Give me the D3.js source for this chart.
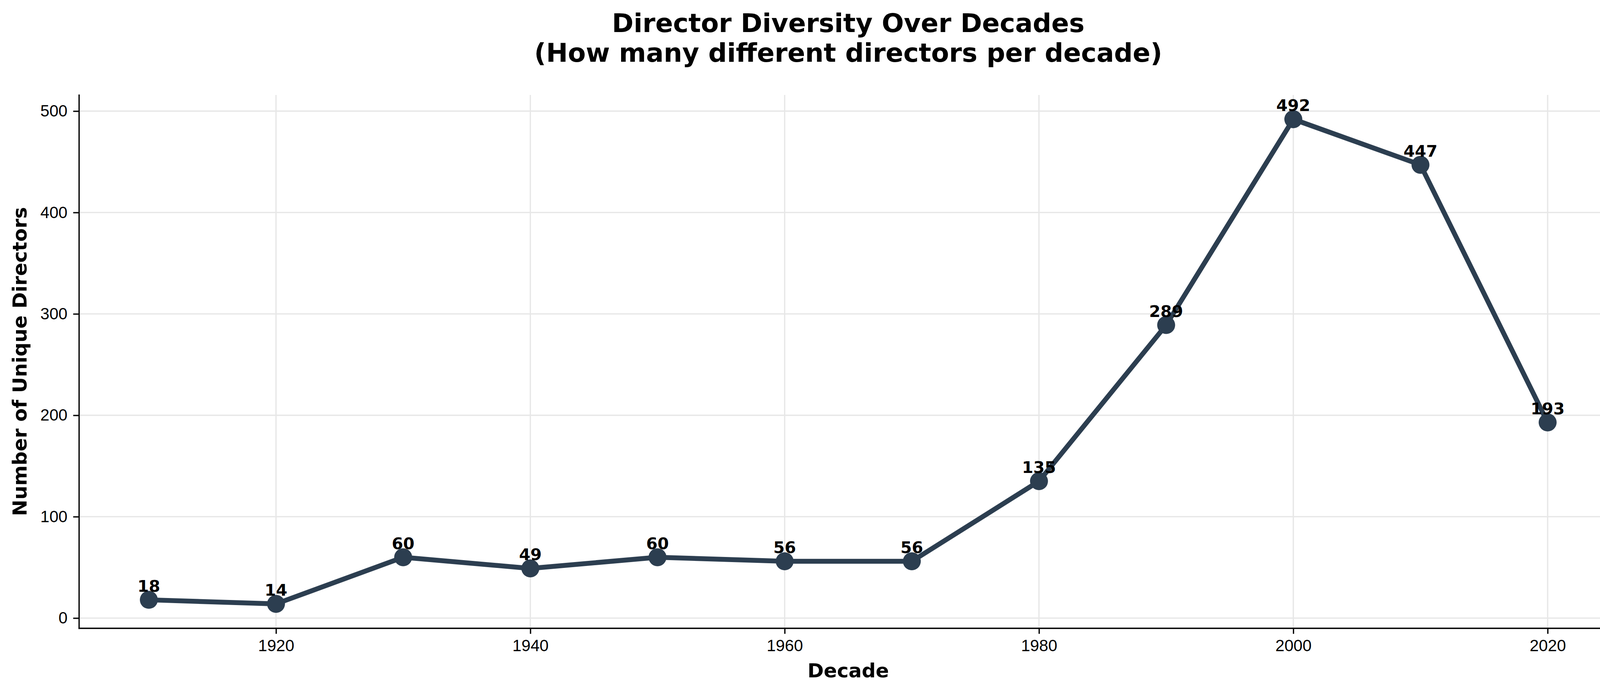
<!DOCTYPE html>
<html>
<head>
<meta charset="utf-8">
<script src="https://cdn.jsdelivr.net/npm/d3@7"></script>
<style>
  body { margin: 0; background: #fff; }
  svg { display: block; font-family: "DejaVu Sans", sans-serif; }
  .axis path, .axis line { stroke: #000; stroke-width: 3.3px; }
  .axis text { font-size: 41.7px; fill: #000; }
  .grid line { stroke: #e7e7e7; stroke-width: 3.3px; }
</style>
</head>
<body>
<div id="graph"></div>
<script>
// chart values
var decades = [1910, 1920, 1930, 1940, 1950, 1960, 1970, 1980, 1990, 2000, 2010, 2020];
var directors = [18, 14, 60, 49, 60, 56, 56, 135, 289, 492, 447, 193];
var xTicks = [1920, 1940, 1960, 1980, 2000, 2020];
var yTicks = [0, 100, 200, 300, 400, 500];

var data = decades.map(function(d, i) { return {decade: d, count: directors[i]}; });

var W = 4169, H = 1773;
var margin = {top: 243, right: 28, bottom: 166, left: 202};
var width = W - margin.left - margin.right,
    height = H - margin.top - margin.bottom;

// matplotlib-like 5% padding round the data
var xmin = d3.min(decades), xmax = d3.max(decades);
var ymin = d3.min(directors), ymax = d3.max(directors);
var xpad = (xmax - xmin) * 0.05, ypad = (ymax - ymin) * 0.05;

var x = d3.scaleLinear().domain([xmin - xpad, xmax + xpad]).range([0, width]);
var y = d3.scaleLinear().domain([ymin - ypad, ymax + ypad]).range([height, 0]);

var svg = d3.select("#graph").append("svg")
  .attr("width", W)
  .attr("height", H);

var g = svg.append("g")
  .attr("transform", "translate(" + margin.left + "," + margin.top + ")");

// grid
g.append("g").attr("class", "grid")
  .selectAll("line.h")
  .data(yTicks)
  .enter().append("line")
  .attr("x1", 0).attr("x2", width)
  .attr("y1", function(d) { return y(d); })
  .attr("y2", function(d) { return y(d); });

g.append("g").attr("class", "grid")
  .selectAll("line.v")
  .data(xTicks)
  .enter().append("line")
  .attr("y1", 0).attr("y2", height)
  .attr("x1", function(d) { return x(d); })
  .attr("x2", function(d) { return x(d); });

// axes (only left and bottom spines)
var xaxis = d3.axisBottom(x).tickValues(xTicks).tickFormat(d3.format("d"))
  .tickSize(14.6).tickPadding(14.6).tickSizeOuter(0);
var yaxis = d3.axisLeft(y).tickValues(yTicks).tickFormat(d3.format("d"))
  .tickSize(14.6).tickPadding(14.6).tickSizeOuter(0);

g.append("g")
  .attr("class", "axis axis--x")
  .attr("transform", "translate(0," + height + ")")
  .call(xaxis);

g.append("g")
  .attr("class", "axis axis--y")
  .call(yaxis);

g.selectAll(".axis path").attr("stroke-linecap", "square");

// line + markers
var line = d3.line()
  .x(function(d) { return x(d.decade); })
  .y(function(d) { return y(d.count); });

g.append("path")
  .datum(data)
  .attr("fill", "none")
  .attr("stroke", "#2c3e50")
  .attr("stroke-width", 12.5)
  .attr("stroke-linejoin", "round")
  .attr("d", line);

g.selectAll("circle.pt")
  .data(data)
  .enter().append("circle")
  .attr("class", "pt")
  .attr("cx", function(d) { return x(d.decade); })
  .attr("cy", function(d) { return y(d.count); })
  .attr("r", 23)
  .attr("fill", "#2c3e50");

// value labels
g.selectAll("text.val")
  .data(data)
  .enter().append("text")
  .attr("class", "val")
  .attr("x", function(d) { return x(d.decade); })
  .attr("y", function(d) { return y(d.count) - 21; })
  .attr("text-anchor", "middle")
  .style("font-size", "41.7px")
  .style("font-weight", "bold")
  .text(function(d) { return d.count; });

// axis labels
svg.append("text")
  .attr("x", margin.left + width / 2)
  .attr("y", 1733)
  .attr("text-anchor", "middle")
  .style("font-size", "50px")
  .style("font-weight", "bold")
  .text("Decade");

svg.append("text")
  .attr("transform", "translate(68," + (margin.top + height / 2) + ") rotate(-90)")
  .attr("text-anchor", "middle")
  .style("font-size", "50px")
  .style("font-weight", "bold")
  .text("Number of Unique Directors");

// title
var title = svg.append("text")
  .attr("text-anchor", "middle")
  .style("font-size", "66.7px")
  .style("font-weight", "bold");

title.append("tspan")
  .attr("x", margin.left + width / 2)
  .attr("y", 82)
  .text("Director Diversity Over Decades");

title.append("tspan")
  .attr("x", margin.left + width / 2)
  .attr("y", 158)
  .text("(How many different directors per decade)");
</script>
</body>
</html>
